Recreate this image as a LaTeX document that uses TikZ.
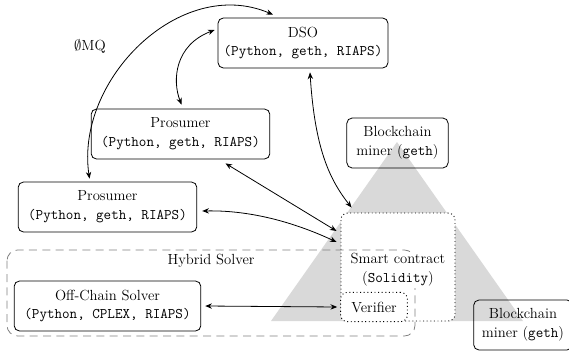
\documentclass[tikz,border=0pt]{standalone}
\usetikzlibrary{arrows.meta,calc}
\begin{document}
\begin{tikzpicture}[x=0.75pt,y=-0.75pt,
  font=\fontsize{11}{14}\selectfont,
  box/.style={draw, rounded corners=4pt, align=center, minimum height=37.5pt, inner sep=2pt, line width=0.6pt},
  dotbox/.style={draw, dotted, rounded corners=5pt, line width=0.7pt},
  dbl/.style={{Stealth[length=5pt,width=4pt]}-{Stealth[length=5pt,width=4pt]}, line width=0.6pt},
  lbl/.style={inner sep=1pt, align=center}]
\useasboundingbox (0,0) rectangle (569,354);
% blockchain triangle
\fill[black!15] (397,142) -- (271,321) -- (523,321) -- cycle;
% smart contract region
\node[dotbox, fill=white, minimum width=85.5pt, minimum height=81pt] (sc) at (398,267) {};
% hybrid solver
\draw[dashed, dash pattern=on 6pt off 4pt, gray, rounded corners=8pt, line width=0.6pt] (7,250) rectangle (415,336);
\node[lbl] (hs) at (211,261) {Hybrid Solver};
\node[lbl, fill=white] (sct) at (398,270) {Smart contract\\(\texttt{Solidity})};
\node[dotbox, fill=white, minimum width=50pt, minimum height=22pt] (ver) at (374,307) {Verifier};
% boxes
\node[box, minimum width=127.5pt] (dso) at (303,43) {DSO\\\texttt{(Python, geth, RIAPS)}};
\node[box, minimum width=134pt] (p2) at (180.5,134) {Prosumer\\\texttt{(Python, geth, RIAPS)}};
\node[box, minimum width=134pt] (p1) at (107.5,207) {Prosumer\\\texttt{(Python, geth, RIAPS)}};
\node[box, minimum width=140pt] (ocs) at (107.5,306) {Off-Chain Solver\\\texttt{(Python, CPLEX, RIAPS)}};
\node[box, minimum width=76pt] (m1) at (397.5,143) {Blockchain\\miner (\texttt{geth})};
\node[box, minimum width=74pt] (m2) at (523,325) {Blockchain\\miner (\texttt{geth})};
% label
\node[lbl] (zmq) at (90,46) {$\emptyset$MQ};
% connectors
\draw[dbl] ($(p1.north)+(-18,-3)$) .. controls (75,80) and (180,-25) .. ($(dso.north)+(-30,-3)$);
\draw[dbl] ($(dso.west)+(-3,-13)$) .. controls (175,45) and (172,80) .. ($(p2.north)+(1,-4)$);
\draw[dbl] ($(dso.south)+(7,4)$) .. controls (315,150) and (330,180) .. ($(sc.north west)+(11,-5)$);
\draw[dbl] ($(p2.south)+(45,4)$) -- ($(sc.west)+(-4,-36)$);
\draw[dbl] ($(p1.east)+(5,4)$) .. controls (255,210) and (300,225) .. ($(sc.west)+(-4,-25)$);
\draw[dbl] ($(ocs.east)+(4,0)$) -- ($(ver.west)+(-3,0)$);
\end{tikzpicture}
\end{document}
